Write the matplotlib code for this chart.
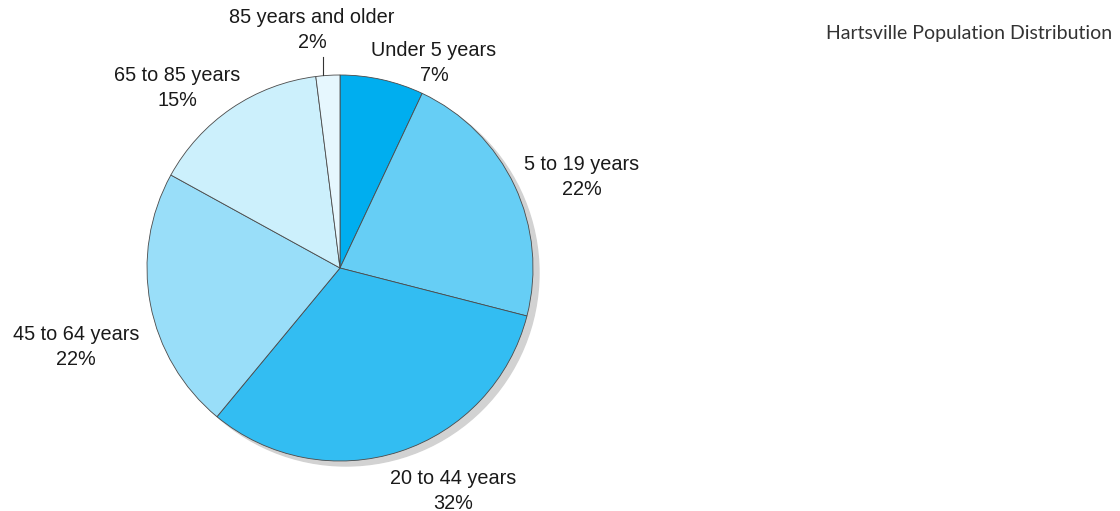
import matplotlib.pyplot as plt
from matplotlib.patches import Circle

# Datos
grupos = ["Under 5 years", "5 to 19 years", "20 to 44 years",
          "45 to 64 years", "65 to 85 years", "85 years and older"]
porcentajes = [7, 22, 32, 22, 15, 2]
colores = ["#00aeef", "#66cef5", "#33bdf2", "#99def9", "#ccf0fc", "#e6f7fe"]

W, H = 1120, 511
fig = plt.figure(figsize=(W / 100, H / 100), dpi=100)
ax = fig.add_axes([0, 0, 1, 1])

# centro y radio del pastel en pixeles (y hacia arriba)
cx, cy, r = 340, H - 268, 193

# sombra
ax.add_patch(Circle((cx + 6, cy - 5), r, color="#d2d2d2", zorder=0))

ax.pie(porcentajes, colors=colores, startangle=90, counterclock=False,
       center=(cx, cy), radius=r,
       wedgeprops=dict(edgecolor="#4a4a4a", linewidth=0.6))

ax.set_xlim(0, W)
ax.set_ylim(0, H)
ax.set_aspect("auto")
ax.axis("off")

# etiquetas
pos_etiquetas = [(434, 63), (582, 177), (453, 491), (76, 347), (177, 88), (312, 30)]
for g, p, (x, y) in zip(grupos, porcentajes, pos_etiquetas):
    ax.text(x, H - y, f"{g}\n{p}%", ha="center", va="center",
            fontsize=14.3, family="Liberation Sans", color="#1a1a1a",
            linespacing=1.35)

# linea guia para el segmento pequeno
ax.plot([323, 323], [H - 57, H - 75], color="#333333", linewidth=0.8)

fig.text(1112 / W, 1 - 34 / H, "Hartsville Population Distribution",
         ha="right", va="center", fontsize=14, family="Lato", color="#333333")

fig.savefig("out.png", dpi=100)
